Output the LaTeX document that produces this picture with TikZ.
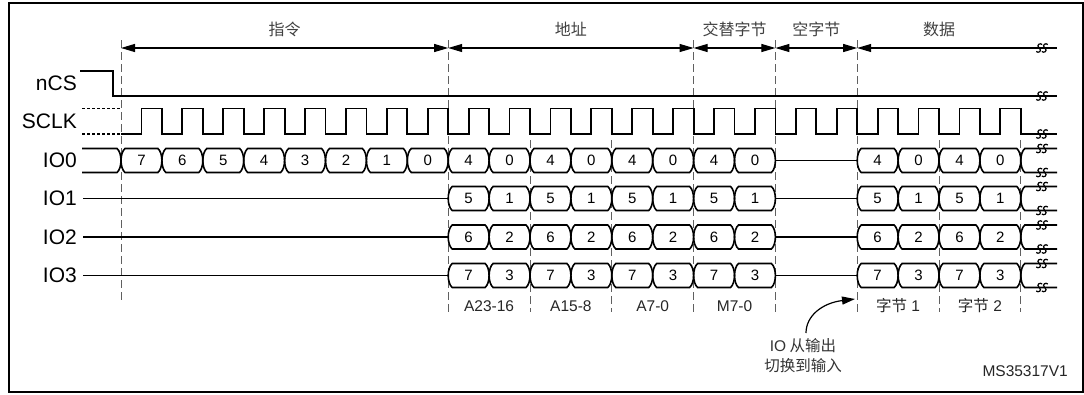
\documentclass[tikz,border=0pt]{standalone}
\usepackage{fontspec}
\setmainfont{Liberation Sans}
\newfontfamily\cjk{Noto Sans CJK SC}
\usetikzlibrary{arrows.meta}
\def\T{121}\def\P{40.9}\def\H{12}\def\W{4}
\newcommand\cellpath[3]{(#1+\W,#3-\H) -- (#2-\W,#3-\H) .. controls (#2-1.5,#3-\H+2) and (#2,#3-5) .. (#2,#3) .. controls (#2,#3+5) and (#2-1.5,#3+\H-2) .. (#2-\W,#3+\H) -- (#1+\W,#3+\H) .. controls (#1+1.5,#3+\H-2) and (#1,#3+5) .. (#1,#3) .. controls (#1,#3-5) and (#1+1.5,#3-\H+2) .. cycle}
\newcommand\sglyph[2]{(#1+3,#2-3.5) .. controls (#1+1,#2-5.5) and (#1-3.5,#2-3) .. (#1,#2) .. controls (#1+3.5,#2+3) and (#1-1,#2+5.5) .. (#1-3,#2+3.5)}
\newcommand\brkmark[2]{\draw[brk] \sglyph{#1-2.8}{#2} \sglyph{#1+2.8}{#2};}
\tikzset{
  sig/.style={line width=1.8pt, line join=miter},
  bus/.style={line width=1.6pt},
  dsh/.style={line width=0.9pt, gray!75!black, dash pattern=on 8pt off 4pt},
  brk/.style={line width=1.2pt},
  lbl/.style={font=\fontsize{21}{24}\selectfont, anchor=east, inner sep=0pt},
  dig/.style={font=\fontsize{15}{18}\selectfont, inner sep=0pt},
  hdr/.style={font=\cjk\fontsize{16}{18}\selectfont, text=black!75, inner sep=0pt},
  blbl/.style={font=\fontsize{15.5}{18}\selectfont, text=black!85, inner sep=0pt},
  hline/.style={line width=1.1pt, >={Triangle[length=14pt,width=8pt]}}
}
\begin{document}
\begin{tikzpicture}[x=1pt,y=-1pt]
\useasboundingbox (0,0) rectangle (1084,394);
\draw[line width=2pt] (9,3) rectangle (1083,392);
% boundaries
\pgfmathsetmacro\tA{\T+8*\P}
\pgfmathsetmacro\tB{\T+14*\P}
\pgfmathsetmacro\tC{\T+16*\P}
\pgfmathsetmacro\tD{\T+18*\P}
\pgfmathsetmacro\tE{\T+22*\P}
% dashed guide lines
\draw[dsh] (\T,40) -- (\T,300);
\foreach \x in {\tA,\tB,\tC,\tD} \draw[dsh] (\x,40) -- (\x,312);
\foreach \k in {10,12,20,22} \draw[dsh] ({\T+\k*\P},140) -- ({\T+\k*\P},312);
% header
\coordinate (h0) at (\T,48);
\coordinate (h1) at (\tA,48);
\coordinate (h2) at (\tB,48);
\coordinate (h3) at (\tC,48);
\coordinate (h4) at (\tD,48);
\coordinate (h5) at (1057,48);
\draw[hline,<->] (h0) -- (h1);
\draw[hline,<->] (h1) -- (h2);
\draw[hline,<->] (h2) -- (h3);
\draw[hline,<->] (h3) -- (h4);
\draw[hline,<-] (h4) -- (h5);
\brkmark{1042}{48}
\node[hdr] (t1) at ({(\T+\tA)/2},29) {指令};
\node[hdr] (t2) at ({(\tA+\tB)/2},29) {地址};
\node[hdr] (t3) at ({(\tB+\tC)/2},29) {交替字节};
\node[hdr] (t4) at ({(\tC+\tD)/2},29) {空字节};
\node[hdr] (t5) at ({(\tD+\tE)/2},29) {数据};
% labels
\node[lbl] (lnCS) at (77,83) {nCS};
\node[lbl] (lSCLK) at (77,121.5) {SCLK};
\node[lbl] (lIO0) at (77,160.5) {IO0};
\node[lbl] (lIO1) at (77,198.5) {IO1};
\node[lbl] (lIO2) at (77,237) {IO2};
\node[lbl] (lIO3) at (77,275.5) {IO3};
% nCS
\draw[sig] (80,70.7) -- (113,70.7) -- (113,96) -- (1057,96);
\brkmark{1042}{96}
% SCLK
\draw[line width=1.3pt, dash pattern=on 3pt off 2pt] (82,108.5) -- (\T,108.5) (82,134) -- (\T,134);
\draw[sig] (\T,134) \foreach \k in {0,...,21}{ -- ({\T+\k*\P+\P/2},134) -- ({\T+\k*\P+\P/2},108.5) -- ({\T+(\k+1)*\P},108.5) -- ({\T+(\k+1)*\P},134) } -- (1057,134);
\brkmark{1042}{134}
% IO0 instruction cells
\draw[bus] (82,160.5-\H) -- (\T-\W,160.5-\H) .. controls (\T-1.5,160.5-\H+2) and (\T,160.5-5) .. (\T,160.5) .. controls (\T,160.5+5) and (\T-1.5,160.5+\H-2) .. (\T-\W,160.5+\H) -- (82,160.5+\H);
\foreach \k in {0,...,7}{
  \pgfmathsetmacro\a{\T+\k*\P}
  \pgfmathsetmacro\b{\a+\P}
  \pgfmathtruncatemacro\v{7-\k}
  \draw[bus] \cellpath{\a}{\b}{160.5};
  \node[dig] (i\k) at ({(\a+\b)/2},160.5) {\v};
}
% IO rows
\foreach \r/\y in {0/160.5,1/198.5,2/237,3/275.5}{
  \ifnum\r>0
    \draw[bus] (83,\y) -- (\tA,\y);
  \fi
  \draw[bus] (\tC,\y) -- (\tD,\y);
  \foreach \k in {8,...,15,18,19,20,21}{
    \pgfmathsetmacro\a{\T+\k*\P}
    \pgfmathsetmacro\b{\a+\P}
    \pgfmathtruncatemacro\v{\r+4*(1-mod(\k,2))}
    \draw[bus] \cellpath{\a}{\b}{\y};
    \node[dig] (c\r-\k) at ({(\a+\b)/2},\y) {\v};
  }
  \draw[bus] (1057,\y-\H) -- (\tE+\W,\y-\H) .. controls (\tE+1.5,\y-\H+2) and (\tE,\y-5) .. (\tE,\y) .. controls (\tE,\y+5) and (\tE+1.5,\y+\H-2) .. (\tE+\W,\y+\H) -- (1057,\y+\H);
  \brkmark{1042}{\y-\H}
  \brkmark{1042}{\y+\H}
}
% bottom labels
\node[blbl] (b1) at ({\T+9*\P},306) {A23-16};
\node[blbl] (b2) at ({\T+11*\P},306) {A15-8};
\node[blbl] (b3) at ({\T+13*\P},306) {A7-0};
\node[blbl] (b4) at ({\T+15*\P},306) {M7-0};
\node[blbl] (b5) at ({\T+19*\P},306) {{\cjk 字节} 1};
\node[blbl] (b6) at ({\T+21*\P},306) {{\cjk 字节} 2};
\node[blbl, align=center, font=\cjk\fontsize{15.5}{20}\selectfont, text=black!80] (note) at (803,356) {{\fontspec{Liberation Sans}IO} 从输出\\切换到输入};
\coordinate (nstart) at (806,333);
\coordinate (ntip) at (855,299);
\draw[line width=1.2pt, -{Triangle[length=13pt,width=8pt]}] (nstart) .. controls (806,316) and (822,303) .. (ntip);
\node[blbl, anchor=east] (ms) at (1068,371) {MS35317V1};
\end{tikzpicture}
\end{document}
